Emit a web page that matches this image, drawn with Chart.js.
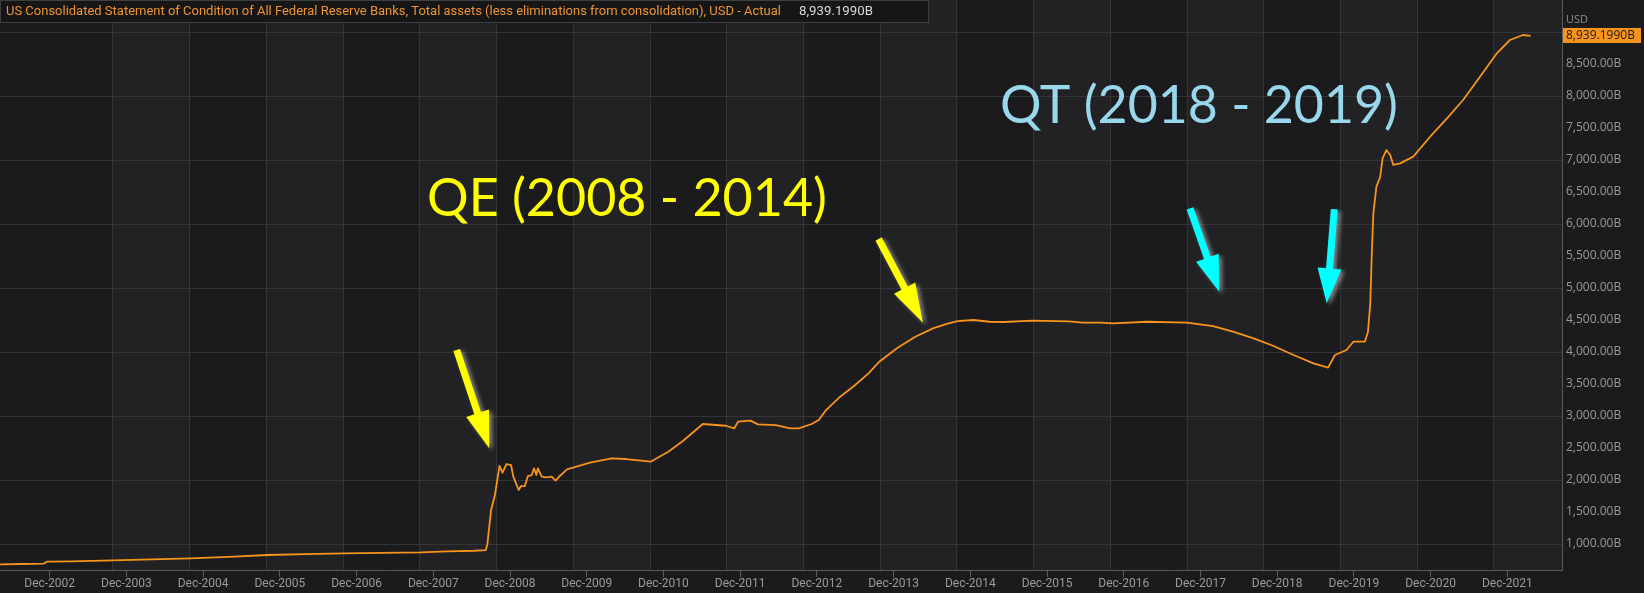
<!DOCTYPE html>
<html>
<head>
  <meta charset="utf-8">
  <script src="https://cdn.jsdelivr.net/npm/chart.js"></script>
  <style>
    body { margin: 0; background: #1b1b1d; }
    canvas { display: block; }
  </style>
</head>
<body>
  <canvas id="fedChart" width="1644" height="593"></canvas>
<script>
"use strict";

// Fed total assets, billions USD (decimal year)
const dates = [
  2002.27, 2002.55, 2002.84, 2002.88, 2003.20, 2003.74, 2004.25, 2004.75, 2005.25, 2005.76,
  2006.25, 2006.75, 2007.25, 2007.75, 2008.10, 2008.45, 2008.60, 2008.62, 2008.67, 2008.72,
  2008.78, 2008.82, 2008.87, 2008.93, 2008.96, 2009.03, 2009.06, 2009.11, 2009.15, 2009.20,
  2009.23, 2009.26, 2009.28, 2009.33, 2009.39, 2009.46, 2009.51, 2009.57, 2009.66, 2009.96,
  2010.24, 2010.43, 2010.75, 2010.98, 2011.17, 2011.43, 2011.73, 2011.84, 2011.89, 2012.05,
  2012.15, 2012.38, 2012.57, 2012.68, 2012.85, 2012.94, 2013.03, 2013.22, 2013.40, 2013.59,
  2013.73, 2013.96, 2014.20, 2014.43, 2014.61, 2014.75, 2014.96, 2015.17, 2015.36, 2015.73,
  2016.20, 2016.38, 2016.61, 2016.78, 2017.22, 2017.74, 2018.08, 2018.34, 2018.61, 2018.87,
  2019.13, 2019.39, 2019.58, 2019.67, 2019.82, 2019.91, 2020.06, 2020.10, 2020.13, 2020.15,
  2020.17, 2020.21, 2020.26, 2020.29, 2020.34, 2020.39, 2020.43, 2020.52, 2020.69, 2020.91,
  2021.13, 2021.34, 2021.56, 2021.78, 2021.95, 2022.12, 2022.22
];
const assets = [
  683, 688, 695, 724, 730, 745, 760, 776, 800, 828,
  842, 854, 862, 870, 885, 895, 906, 984, 1531, 1766,
  2219, 2114, 2250, 2234, 2052, 1844, 1906, 1906, 2062, 2078,
  2183, 2078, 2183, 2052, 2042, 2052, 1990, 2067, 2167, 2271,
  2339, 2328, 2286, 2442, 2609, 2875, 2848, 2808, 2911, 2927,
  2870, 2859, 2808, 2808, 2875, 2938, 3083, 3302, 3469, 3667,
  3849, 4058, 4239, 4370, 4438, 4484, 4500, 4473, 4469, 4489,
  4479, 4458, 4458, 4448, 4473, 4458, 4406, 4317, 4214, 4094,
  3953, 3823, 3755, 3953, 4031, 4161, 4161, 4317, 4760, 5542,
  6167, 6583, 6739, 7027, 7156, 7078, 6922, 6948, 7052, 7364,
  7652, 7938, 8302, 8667, 8875, 8953, 8938
];

const tickYears = [2002, 2003, 2004, 2005, 2006, 2007, 2008, 2009, 2010, 2011,
  2012, 2013, 2014, 2015, 2016, 2017, 2018, 2019, 2020, 2021];
const yTicks = [1000, 1500, 2000, 2500, 3000, 3500, 4000, 4500, 5000, 5500,
  6000, 6500, 7000, 7500, 8000, 8500, 9000];

const titleText = 'US Consolidated Statement of Condition of All Federal Reserve Banks, Total assets (less eliminations from consolidation), USD - Actual';
const lastValueText = '8,939.1990B';

const DEC = 11 / 12;       // tick sits on December
const GRID_OFF = 0.735;    // vertical grid lines fall late September

// draw an arrow from tail to tip
function drawArrow(ctx, x1, y1, x2, y2, color, headLen, headHalf, shaftHalf) {
  const dx = x2 - x1, dy = y2 - y1;
  const len = Math.hypot(dx, dy);
  const ux = dx / len, uy = dy / len;
  const px = -uy, py = ux;
  const bx = x2 - ux * headLen, by = y2 - uy * headLen;
  ctx.save();
  ctx.shadowColor = 'rgba(150,150,150,0.85)';
  ctx.shadowBlur = 4;
  ctx.shadowOffsetX = 3;
  ctx.shadowOffsetY = 2;
  ctx.fillStyle = color;
  ctx.beginPath();
  ctx.moveTo(x1 + px * shaftHalf, y1 + py * shaftHalf);
  ctx.lineTo(bx + px * shaftHalf, by + py * shaftHalf);
  ctx.lineTo(bx + px * headHalf, by + py * headHalf);
  ctx.lineTo(x2, y2);
  ctx.lineTo(bx - px * headHalf, by - py * headHalf);
  ctx.lineTo(bx - px * shaftHalf, by - py * shaftHalf);
  ctx.lineTo(x1 - px * shaftHalf, y1 - py * shaftHalf);
  ctx.closePath();
  ctx.fill();
  ctx.restore();
}

function fitText(ctx, text, family, target) {
  ctx.font = '50px ' + family;
  const w = ctx.measureText(text).width;
  return (50 * target / w).toFixed(2) + 'px ' + family;
}

// background bands + vertical grid lines
const bandsPlugin = {
  id: 'bands',
  beforeDraw(chart) {
    const ctx = chart.ctx;
    const area = chart.chartArea;
    const xs = chart.scales.x;
    ctx.save();
    ctx.fillStyle = '#1b1b1d';
    ctx.fillRect(0, 0, chart.width, chart.height);
    ctx.fillStyle = '#222224';
    for (let yr = 2003; yr <= 2021; yr += 2) {
      const a = xs.getPixelForValue(yr + GRID_OFF);
      const b = Math.min(xs.getPixelForValue(yr + 1 + GRID_OFF), area.right);
      ctx.fillRect(a, area.top, b - a, area.bottom - area.top);
    }
    ctx.strokeStyle = '#343437';
    ctx.lineWidth = 1;
    for (let yr = 2003; yr <= 2022; yr++) {
      const x = Math.round(xs.getPixelForValue(yr + GRID_OFF)) + 0.5;
      if (x > area.right) break;
      ctx.beginPath();
      ctx.moveTo(x, area.top);
      ctx.lineTo(x, area.bottom);
      ctx.stroke();
    }
    ctx.restore();
  }
};

// header box, USD badge, QE / QT annotations
const overlayPlugin = {
  id: 'overlay',
  afterDraw(chart) {
    const ctx = chart.ctx;
    const area = chart.chartArea;
    ctx.save();

    // title box
    ctx.fillStyle = '#161617';
    ctx.fillRect(0, 0, 929, 23);
    ctx.strokeStyle = '#3e3e40';
    ctx.strokeRect(0.5, 0.5, 928, 22);
    ctx.font = fitText(ctx, titleText, 'Roboto', 775);
    ctx.fillStyle = '#ee9433';
    ctx.textBaseline = 'middle';
    ctx.textAlign = 'left';
    ctx.fillText(titleText, 6, 12);
    ctx.font = fitText(ctx, lastValueText, 'Roboto', 74);
    ctx.fillStyle = '#d8d8d8';
    ctx.fillText(lastValueText, 799, 12);

    // USD + last value badge
    ctx.fillStyle = '#8e8e8e';
    ctx.font = '11px "Open Sans"';
    ctx.fillText('USD', area.right + 4, 20);
    const yLast = chart.scales.y.getPixelForValue(assets[assets.length - 1]);
    ctx.fillStyle = '#f7941d';
    ctx.fillRect(area.right + 1, yLast - 8, 78, 15);
    ctx.fillStyle = '#1b1b1b';
    ctx.font = '12px "Open Sans"';
    ctx.fillText(lastValueText, area.right + 4, yLast);

    // annotations
    ctx.textBaseline = 'alphabetic';
    ctx.font = fitText(ctx, 'QE (2008 - 2014)', 'Lato', 400);
    ctx.fillStyle = '#ffff00';
    ctx.fillText('QE (2008 - 2014)', 427, 216);
    ctx.font = fitText(ctx, 'QT (2018 - 2019)', 'Lato', 398);
    ctx.fillStyle = '#98d7ec';
    ctx.fillText('QT (2018 - 2019)', 1000, 123);

    drawArrow(ctx, 456.7, 350, 489.3, 448.3, '#ffff00', 37, 12, 3.5);
    drawArrow(ctx, 878.6, 239, 922.9, 322.7, '#ffff00', 39, 12, 3.5);
    drawArrow(ctx, 1190, 208.3, 1219.3, 291.7, '#00ffff', 36, 12, 3.5);
    drawArrow(ctx, 1334.3, 209.3, 1326.7, 303.3, '#00ffff', 35, 12, 3.5);

    ctx.restore();
  }
};

const points = dates.map((d, i) => ({ x: d, y: assets[i] }));

new Chart(document.getElementById('fedChart'), {
  type: 'line',
  data: {
    datasets: [{
      data: points,
      borderColor: '#f7941d',
      borderWidth: 1.8,
      pointRadius: 0,
      tension: 0,
      borderJoinStyle: 'round'
    }]
  },
  options: {
    responsive: false,
    animation: false,
    layout: { padding: 0 },
    plugins: { legend: { display: false }, tooltip: { enabled: false } },
    scales: {
      x: {
        type: 'linear',
        min: 2002.269,
        max: 2022.629,
        afterBuildTicks: (scale) => {
          scale.ticks = tickYears.map(y => ({ value: y + DEC }));
        },
        afterFit: (scale) => {
          scale.height = 23;
          scale.paddingLeft = 0;
          scale.paddingRight = 0;
        },
        ticks: {
          color: '#9a9a9a',
          font: { family: 'Roboto', size: 12 },
          padding: 0,
          maxRotation: 0,
          autoSkip: false,
          callback: (v) => 'Dec-' + Math.round(v - DEC)
        },
        grid: {
          drawOnChartArea: false,
          drawTicks: true,
          tickLength: 7,
          color: '#5a5a5c'
        },
        border: { display: true, color: '#5a5a5c' }
      },
      y: {
        position: 'right',
        min: 594,
        max: 9500,
        afterBuildTicks: (scale) => {
          scale.ticks = yTicks.map(v => ({ value: v }));
        },
        afterFit: (scale) => {
          scale.width = 82;
          scale.paddingTop = 0;
          scale.paddingBottom = 0;
        },
        ticks: {
          color: '#9a9a9a',
          font: { family: 'Open Sans', size: 12 },
          padding: 4,
          autoSkip: false,
          callback: (v) => v >= 9000 ? '' : v.toLocaleString('en-US', { minimumFractionDigits: 2 }) + 'B'
        },
        grid: {
          drawTicks: false,
          color: (c) => (c.tick && c.tick.value % 1000 === 0) ? '#343437' : 'rgba(0,0,0,0)'
        },
        border: { display: true, color: '#5a5a5c' }
      }
    }
  },
  plugins: [bandsPlugin, overlayPlugin]
});
</script>
</body>
</html>
